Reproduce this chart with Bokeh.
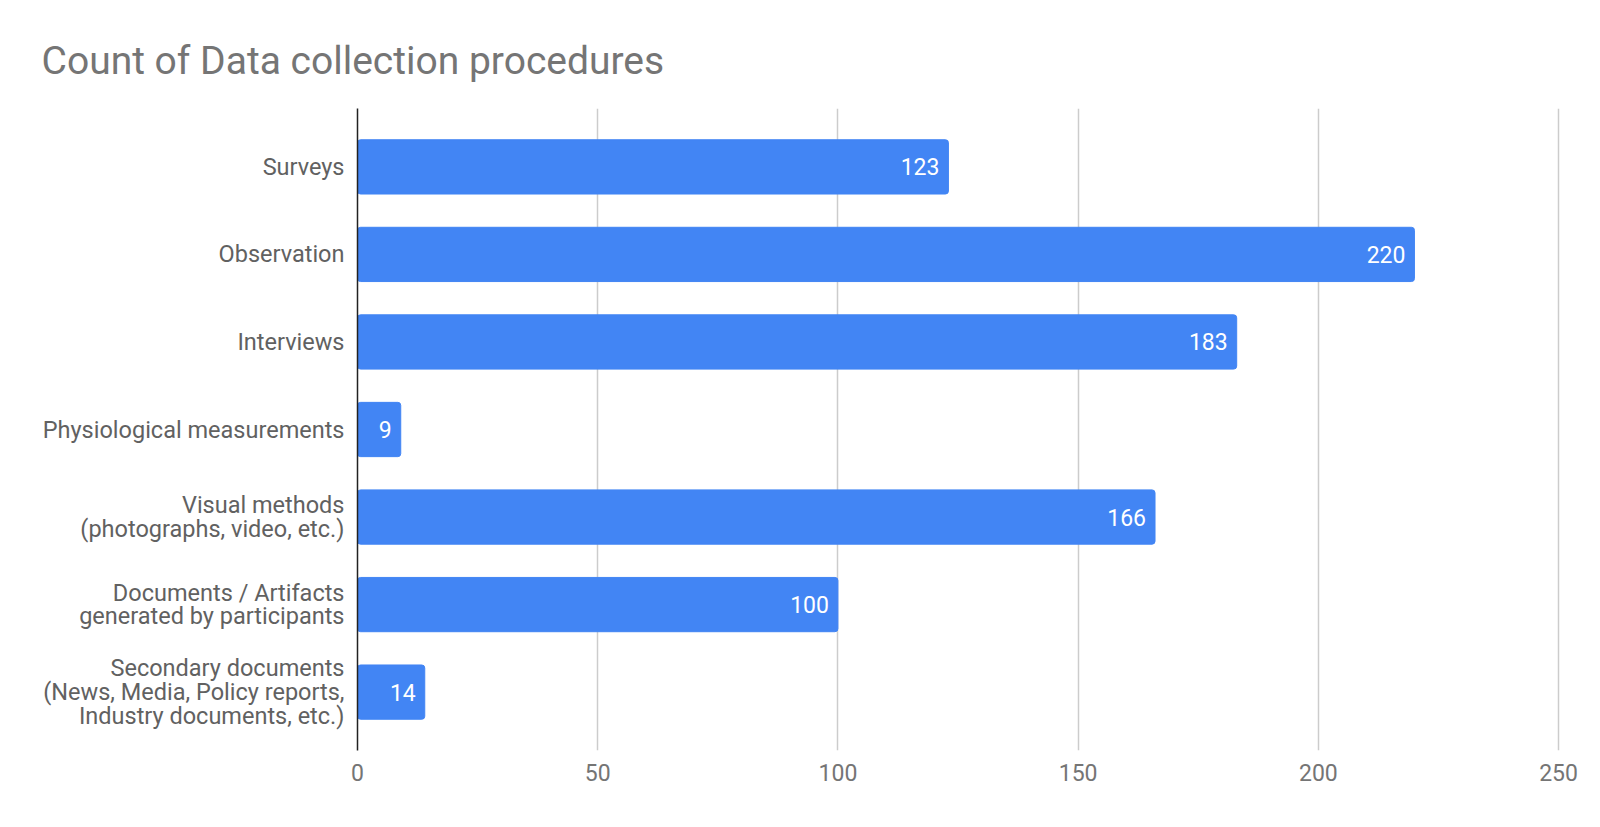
from bokeh.plotting import figure
from bokeh.models import ColumnDataSource, Range1d, FixedTicker
from bokeh.core.properties import value
from bokeh.embed import file_html
from bokeh.resources import INLINE

categories = [
    "Surveys",
    "Observation",
    "Interviews",
    "Physiological measurements",
    "Visual methods\n(photographs, video, etc.)",
    "Documents / Artifacts\ngenerated by participants",
    "Secondary documents\n(News, Media, Policy reports,\nIndustry documents, etc.)",
]
counts = [123, 220, 183, 9, 166, 100, 14]
x_ticks = [0, 50, 100, 150, 200, 250]

pos = list(range(len(categories)))
src = ColumnDataSource(dict(y=pos, v=counts, lab=[str(c) for c in counts]))

p = figure(width=1584, height=811, output_backend="svg", toolbar_location=None,
           x_range=Range1d(0, 250.4), y_range=Range1d(len(categories) - 1 + 0.667, -0.667),
           min_border_left=357, min_border_right=24, min_border_top=108, min_border_bottom=61)
p.outline_line_color = None
p.background_fill_color = "white"
p.border_fill_color = "white"

p.title.text = "Count of Data collection procedures"
p.title.text_font = "Roboto"
p.title.text_font_size = "39px"
p.title.text_font_style = "normal"
p.title.text_color = "#757575"
p.title.offset = -316
p.title.standoff = 50

p.hbar(y="y", right="v", left=0, height=0.62, source=src, fill_color="#4285F4",
       line_color="#4285F4", border_radius=3)
p.text(x="v", y="y", text="lab", source=src, x_offset=-9, text_align="right",
       text_baseline="middle", text_color="white", text_font=value("Roboto"),
       text_font_size="23px")

p.xaxis.ticker = FixedTicker(ticks=x_ticks)
p.xaxis.axis_line_color = None
p.xaxis.major_tick_line_color = None
p.xaxis.minor_tick_line_color = None
p.xaxis.major_label_text_font = "Roboto"
p.xaxis.major_label_text_font_size = "23px"
p.xaxis.major_label_text_color = "#757575"
p.xaxis.major_label_standoff = 7

p.yaxis.ticker = FixedTicker(ticks=pos)
p.yaxis.major_label_overrides = {i: c for i, c in enumerate(categories)}
p.yaxis.axis_line_color = "#222222"
p.yaxis.axis_line_width = 1.5
p.yaxis.major_tick_line_color = None
p.yaxis.minor_tick_line_color = None
p.yaxis.major_label_text_font = "Roboto"
p.yaxis.major_label_text_font_size = "23.5px"
p.yaxis.major_label_text_color = "#616161"
p.yaxis.major_label_text_line_height = 0.85
p.yaxis.major_label_standoff = 7

p.xgrid.grid_line_color = "#cccccc"
p.xgrid.grid_line_width = 1.5
p.ygrid.grid_line_color = None

open("out.html", "w").write(file_html(p, INLINE))
